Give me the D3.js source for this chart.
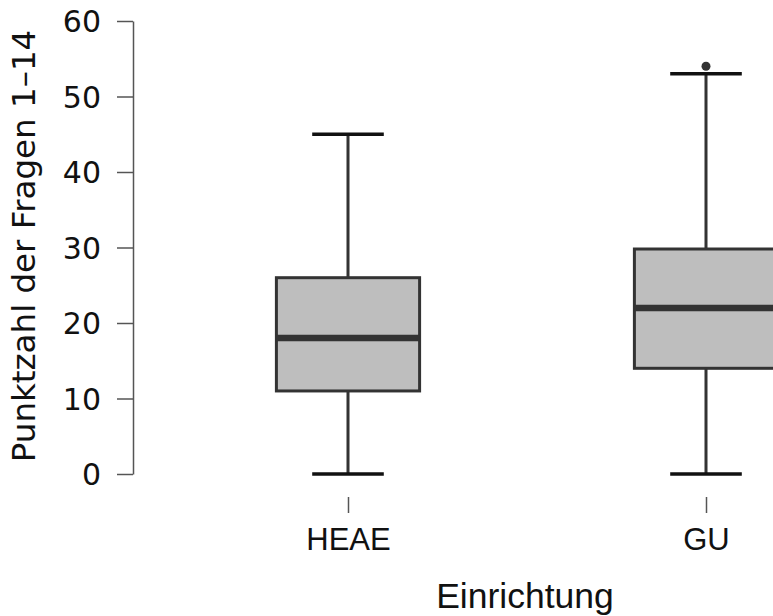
<!DOCTYPE html>
<meta charset="utf-8">
<style>
body { margin: 0; background: #fff; }
.axis text { fill: #111; }
.y.axis path, .y.axis line, .x.axis line { stroke: #555; stroke-width: 1.5; }
.x.axis path { display: none; }
</style>
<body>
<script src="https://cdn.jsdelivr.net/npm/d3@7"></script>
<script>

// box plot summary per Einrichtung
var categories = ["HEAE", "GU"],
    lowerWhisker = [0, 0],
    q1 = [11, 14],
    median = [18, 22],
    q3 = [26, 29.8],
    upperWhisker = [45, 53],
    outliers = [[], [54]];

var yTicks = [0, 10, 20, 30, 40, 50, 60];

var width = 773, height = 616;

var svg = d3.select("body").append("svg")
    .attr("width", width)
    .attr("height", height);

var y = d3.scaleLinear()
    .domain([0, 60])
    .range([474, 21]);

var x = d3.scalePoint()
    .domain(categories)
    .range([348, 706]);

var boxW = x.step() * 0.4;

var yAxis = d3.axisLeft(y)
    .tickValues(yTicks)
    .tickSize(16)
    .tickSizeOuter(0)
    .tickPadding(16);

svg.append("g")
    .attr("class", "y axis")
    .attr("transform", "translate(133,0)")
    .call(yAxis)
    .selectAll("text")
    .style("font", "30px 'DejaVu Sans'")
    .attr("dy", "0.36em");

var xAxis = d3.axisBottom(x)
    .tickSize(16);

var gx = svg.append("g")
    .attr("class", "x axis")
    .attr("transform", "translate(0,497)")
    .call(xAxis);
gx.selectAll("text")
    .style("font", "31px 'Liberation Sans', Arial")
    .attr("y", 53)
    .attr("dy", 0);

// axis titles
svg.append("text")
    .attr("transform", "translate(35,246) rotate(-90)")
    .attr("text-anchor", "middle")
    .style("font", "32.5px 'DejaVu Sans'")
    .style("fill", "#111")
    .text("Punktzahl der Fragen 1\u201314");

svg.append("text")
    .attr("x", 525)
    .attr("y", 608)
    .attr("text-anchor", "middle")
    .style("font", "35.5px 'Liberation Sans', Arial")
    .style("fill", "#111")
    .text("Einrichtung");

var boxes = svg.append("g")
    .selectAll("g")
    .data(categories)
    .enter()
    .append("g");

// whiskers
boxes.append("line")
    .attr("x1", function(d) { return x(d); })
    .attr("x2", function(d) { return x(d); })
    .attr("y1", function(d, i) { return y(lowerWhisker[i]); })
    .attr("y2", function(d, i) { return y(upperWhisker[i]); })
    .style("stroke", "#333")
    .style("stroke-width", 3);

[lowerWhisker, upperWhisker].forEach(function(arr) {
  boxes.append("line")
      .attr("x1", function(d) { return x(d) - boxW / 4; })
      .attr("x2", function(d) { return x(d) + boxW / 4; })
      .attr("y1", function(d, i) { return y(arr[i]); })
      .attr("y2", function(d, i) { return y(arr[i]); })
      .style("stroke", "#111")
      .style("stroke-width", 3.5);
});

boxes.append("rect")
    .attr("x", function(d) { return x(d) - boxW / 2; })
    .attr("width", boxW)
    .attr("y", function(d, i) { return y(q3[i]); })
    .attr("height", function(d, i) { return y(q1[i]) - y(q3[i]); })
    .style("fill", "#bebebe")
    .style("stroke", "#333")
    .style("stroke-width", 3);

boxes.append("line")
    .attr("x1", function(d) { return x(d) - boxW / 2; })
    .attr("x2", function(d) { return x(d) + boxW / 2; })
    .attr("y1", function(d, i) { return y(median[i]); })
    .attr("y2", function(d, i) { return y(median[i]); })
    .style("stroke", "#333")
    .style("stroke-width", 6.5);

boxes.selectAll("circle")
    .data(function(d, i) { return outliers[i].map(function(v) { return {c: d, v: v}; }); })
    .enter()
    .append("circle")
    .attr("cx", function(d) { return x(d.c); })
    .attr("cy", function(d) { return y(d.v); })
    .attr("r", 4.5)
    .style("fill", "#333");

</script>
